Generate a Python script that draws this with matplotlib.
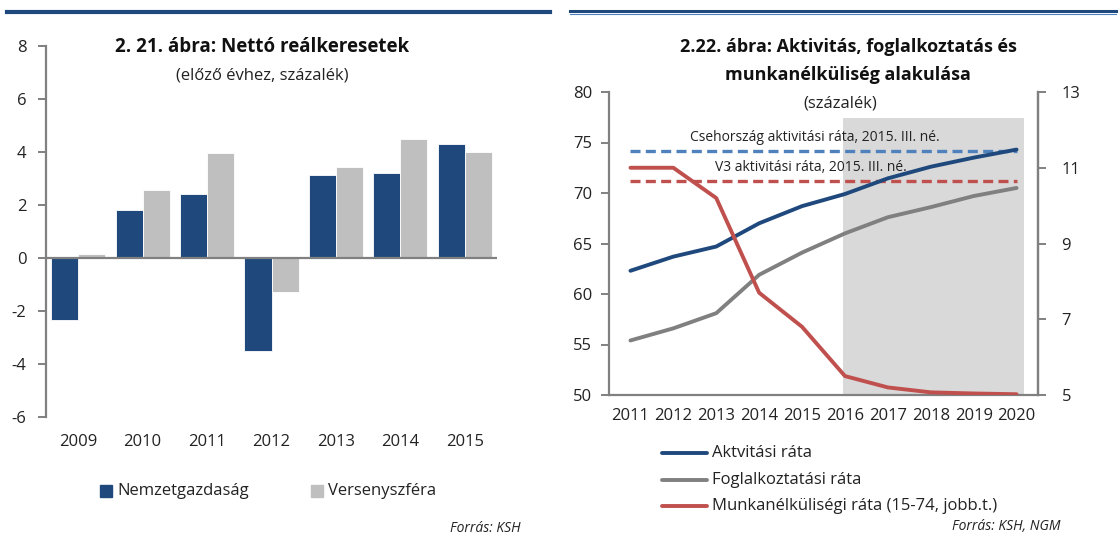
import matplotlib
matplotlib.use("Agg")
import matplotlib.pyplot as plt
from matplotlib.lines import Line2D
from matplotlib.patches import Rectangle
import numpy as np

plt.rcParams['font.family'] = ['Open Sans', 'DejaVu Sans']
plt.rcParams['axes.unicode_minus'] = False

# ---- Left chart data ----
years_left = ["2009", "2010", "2011", "2012", "2013", "2014", "2015"]
nemzetgazdasag = [-2.35, 1.8, 2.4, -3.5, 3.15, 3.2, 4.3]
versenyszfera = [0.15, 2.55, 3.95, -1.3, 3.45, 4.5, 4.0]

# ---- Right chart data ----
years_right = [2011, 2012, 2013, 2014, 2015, 2016, 2017, 2018, 2019, 2020]
aktivitasi = [62.3, 63.7, 64.7, 67.0, 68.7, 69.9, 71.45, 72.6, 73.5, 74.3]
foglalkoztatasi = [55.4, 56.6, 58.1, 61.9, 64.1, 66.0, 67.6, 68.6, 69.7, 70.5]
munkanelkuli = [11.0, 11.0, 10.2, 7.7, 6.8, 5.5, 5.2, 5.07, 5.04, 5.02]
cseh_aktiv = 74.15
v3_aktiv = 71.2

NAVY = "#1f497d"
LGRAY = "#bfbfbf"
AXC = "#808080"
RED = "#c0504d"
LBLUE = "#4f81bd"

fig = plt.figure(figsize=(11.2, 5.42), dpi=100)
W, H = 1120, 542

def fx(px):
    return px / W

def fy(py):
    return 1 - py / H

# top rules
fig.add_artist(Line2D([fx(7), fx(550)], [fy(12), fy(12)], color=NAVY, lw=3))
fig.add_artist(Line2D([fx(570), fx(1116)], [fy(11), fy(11)], color=NAVY, lw=2.2))
fig.add_artist(Line2D([fx(570), fx(1116)], [fy(14), fy(14)], color=LBLUE, lw=0.8))

# ---------------- Left chart ----------------
axL = fig.add_axes([fx(46), fy(417), fx(497 - 46), (417 - 46) / H])
x = np.arange(len(years_left))
w = 0.42
axL.bar(x - w / 2, nemzetgazdasag, w, color=NAVY, edgecolor="white", linewidth=0.6, zorder=2)
axL.bar(x + w / 2, versenyszfera, w, color=LGRAY, edgecolor="white", linewidth=0.6, zorder=2)
axL.axhline(0, color=AXC, lw=1.6, zorder=3)
axL.set_xlim(-0.5, len(years_left) - 0.5)
axL.set_ylim(-6, 8)
axL.set_yticks(range(-6, 9, 2))
axL.set_xticks(x)
axL.set_xticklabels(years_left)
for s in ["top", "right", "bottom"]:
    axL.spines[s].set_visible(False)
axL.spines["left"].set_color(AXC)
axL.spines["left"].set_linewidth(1.6)
axL.tick_params(axis="y", direction="out", length=6, width=1.4, color=AXC, labelsize=12, pad=8, labelcolor="#222222")
axL.tick_params(axis="x", length=0, labelsize=12, pad=12, labelcolor="#222222")
axL.patch.set_alpha(0)

fig.text(fx(262), fy(47), "2. 21. ábra: Nettó reálkeresetek", ha="center", va="center",
         fontsize=13.5, fontweight="bold", color="#111111")
fig.text(fx(262), fy(75), "(előző évhez, százalék)", ha="center", va="center",
         fontsize=12, color="#222222")

# left legend
fig.add_artist(Rectangle((fx(100), fy(497)), fx(12), 12 / H, color=NAVY, transform=fig.transFigure))
fig.text(fx(117), fy(491), "Nemzetgazdaság", ha="left", va="center", fontsize=12, color="#222222")
fig.add_artist(Rectangle((fx(311), fy(497)), fx(12), 12 / H, color=LGRAY, transform=fig.transFigure))
fig.text(fx(328), fy(491), "Versenyszféra", ha="left", va="center", fontsize=12, color="#222222")
fig.text(fx(521), fy(528), "Forrás: KSH", ha="right", va="center", fontsize=10,
         style="italic", color="#222222")

# ---------------- Right chart ----------------
axR = fig.add_axes([fx(609), fy(395), fx(1038 - 609), (395 - 92) / H])
axR.set_xlim(2010.5, 2020.5)
axR.set_ylim(50, 80)
axR.axvspan(2015.95, 2020.17, ymin=0, ymax=(77.4 - 50) / 30, color="#d9d9d9", lw=0, zorder=0)
axR.plot(years_right, aktivitasi, color=NAVY, lw=2.8, zorder=4, solid_capstyle="round")
axR.plot(years_right, foglalkoztatasi, color=AXC, lw=2.8, zorder=3, solid_capstyle="round")
axR.plot([years_right[0], years_right[-1]], [cseh_aktiv, cseh_aktiv], color=LBLUE, lw=2.4,
         ls=(0, (3, 1.6)), zorder=3)
axR.plot([years_right[0], years_right[-1]], [v3_aktiv, v3_aktiv], color=RED, lw=2.4,
         ls=(0, (3, 1.6)), zorder=3)
axR.set_yticks(range(50, 81, 5))
axR.set_xticks(years_right)
axR.set_xticklabels([str(y) for y in years_right])
for s in ["top"]:
    axR.spines[s].set_visible(False)
for s in ["left", "right", "bottom"]:
    axR.spines[s].set_color(AXC)
    axR.spines[s].set_linewidth(1.6)
axR.tick_params(axis="y", direction="out", length=6, width=1.4, color=AXC, labelsize=12, pad=6, labelcolor="#222222")
axR.tick_params(axis="x", length=0, labelsize=12, pad=9, labelcolor="#222222")

axR2 = axR.twinx()
axR2.set_ylim(5, 13)
axR2.set_yticks([5, 7, 9, 11, 13])
axR2.plot(years_right, munkanelkuli, color=RED, lw=2.8, zorder=5, solid_capstyle="round")
for s in ["top", "left", "bottom"]:
    axR2.spines[s].set_visible(False)
axR2.spines["right"].set_color(AXC)
axR2.spines["right"].set_linewidth(1.6)
axR2.tick_params(axis="y", direction="out", length=6, width=1.4, color=AXC, labelsize=12, pad=11, labelcolor="#222222")

axR.text(2015.3, cseh_aktiv + 0.6, "Csehország aktivitási ráta, 2015. III. né.", ha="center",
         va="bottom", fontsize=10, color="#222222", zorder=6)
axR.text(2015.2, v3_aktiv + 0.6, "V3 aktivitási ráta, 2015. III. né.", ha="center",
         va="bottom", fontsize=10, color="#222222", zorder=6)

fig.text(fx(848), fy(47), "2.22. ábra: Aktivitás, foglalkoztatás és", ha="center", va="center",
         fontsize=13, fontweight="bold", color="#111111")
fig.text(fx(848), fy(75), "munkanélküliség alakulása", ha="center", va="center",
         fontsize=13, fontweight="bold", color="#111111")
fig.text(fx(840), fy(103), "(százalék)", ha="center", va="center", fontsize=12, color="#222222")

# right legend
leg_items = [("Aktvitási ráta", NAVY), ("Foglalkoztatási ráta", AXC),
             ("Munkanélküliségi ráta (15-74, jobb.t.)", RED)]
for i, (lab, c) in enumerate(leg_items):
    yy = 453 + i * 26.5
    fig.add_artist(Line2D([fx(662), fx(707)], [fy(yy), fy(yy)], color=c, lw=2.8,
                          solid_capstyle="round"))
    fig.text(fx(712), fy(yy), lab, ha="left", va="center", fontsize=12, color="#222222")
fig.text(fx(1060), fy(527), "Forrás: KSH, NGM", ha="right", va="center", fontsize=10,
         style="italic", color="#222222")

fig.savefig("out.png", dpi=100)
